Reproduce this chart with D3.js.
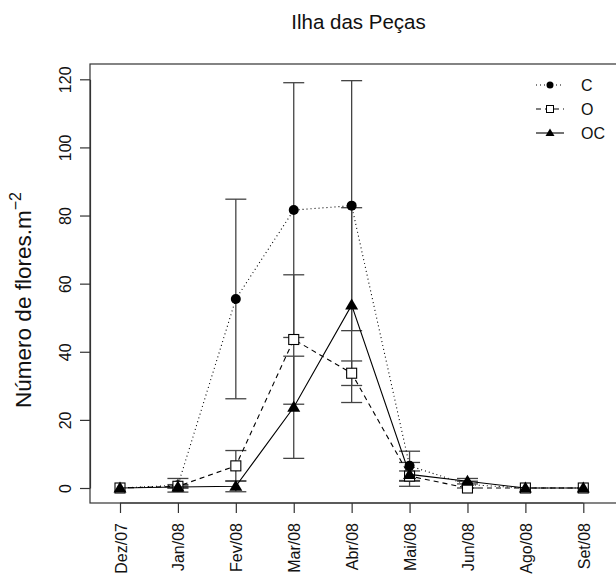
<!DOCTYPE html>
<html>
<head>
<meta charset="utf-8">
<script src="https://cdn.jsdelivr.net/npm/d3@7"></script>
<style>
  body { margin: 0; background: #fff; }
  text { font-family: "Liberation Sans", Arial, Helvetica, sans-serif; fill: #111; }
</style>
</head>
<body>
<div id="chart"></div>
<script>
var months = ['Dez/07', 'Jan/08', 'Fev/08', 'Mar/08', 'Abr/08', 'Mai/08', 'Jun/08', 'Ago/08', 'Set/08'];
var yTicks = [0, 20, 40, 60, 80, 100, 120];

// means and standard errors per treatment
var cMean  = [0, 0.8, 55.5, 81.6, 82.9, 6.5, 1.0, 0, 0];
var cErr   = [0, 2.0, 29.3, 37.4, 36.7, 4.3, 1.0, 0, 0];
var oMean  = [0, 0.5, 6.5, 43.6, 33.7, 3.5, 0, 0, 0];
var oErr   = [0, 0.5, 4.5, 19.0, 3.6, 1.5, 0, 0, 0];
var ocMean = [0, 0.3, 0.5, 23.7, 53.7, 4.0, 2.0, 0, 0];
var ocErr  = [0, 0.3, 1.6, 15.0, 28.6, 3.5, 0.8, 0, 0];

var series = [
    { name: 'C', mean: cMean, err: cErr, dash: '1,3', shape: 'circle' },
    { name: 'O', mean: oMean, err: oErr, dash: '5,4', shape: 'square' },
    { name: 'OC', mean: ocMean, err: ocErr, dash: null, shape: 'triangle' }
];

var width = 616, height = 578;
var box = { left: 90, right: 622, top: 64, bottom: 503 };

var svg = d3.select('#chart').append('svg')
    .attr('width', width)
    .attr('height', height);

var x = d3.scalePoint()
    .domain(months)
    .range([120, 583.3]);

var y = d3.scaleLinear()
    .domain([0, 120])
    .range([488, 79.3]);

// plot frame
svg.append('rect')
    .attr('x', box.left)
    .attr('y', box.top)
    .attr('width', box.right - box.left)
    .attr('height', box.bottom - box.top)
    .attr('fill', 'none')
    .attr('stroke', '#333')
    .attr('stroke-width', 1.2);

// y axis
var yAxis = svg.append('g')
    .attr('transform', 'translate(' + box.left + ',0)')
    .call(d3.axisLeft(y).tickValues(yTicks).tickSize(10).tickSizeOuter(0));
yAxis.select('.domain').attr('stroke', '#333').attr('stroke-width', 1.2);
yAxis.selectAll('.tick line').attr('stroke', '#333').attr('stroke-width', 1.2);
yAxis.selectAll('.tick text')
    .attr('font-size', 16)
    .attr('text-anchor', 'middle')
    .attr('x', 0).attr('dy', 0)
    .attr('transform', 'translate(-19,0) rotate(-90)');

// x axis
var xAxis = svg.append('g')
    .attr('transform', 'translate(0,' + box.bottom + ')')
    .call(d3.axisBottom(x).tickSize(10).tickSizeOuter(0));
xAxis.select('.domain').attr('stroke', '#333').attr('stroke-width', 1.2)
    .attr('d', 'M' + x(months[0]) + ',0H' + x(months[months.length - 1]));
xAxis.selectAll('.tick line').attr('stroke', '#333').attr('stroke-width', 1.2);
xAxis.selectAll('.tick text')
    .attr('font-size', 16)
    .attr('text-anchor', 'end')
    .attr('y', 0).attr('dy', 0)
    .attr('transform', 'translate(6,20) rotate(-90)');

// title
svg.append('text')
    .attr('x', 358.5)
    .attr('y', 29)
    .attr('text-anchor', 'middle')
    .attr('font-size', 20.5)
    .text('Ilha das Peças');

// y label
var ylab = svg.append('text')
    .attr('transform', 'translate(31,300) rotate(-90)')
    .attr('text-anchor', 'middle')
    .attr('font-size', 22.5);
ylab.append('tspan').text('Número de flores.m');
ylab.append('tspan').attr('dy', -10).attr('font-size', 16).text('\u22122');

// error bars
var capHalf = 10.5;
series.forEach(function (s) {
    var g = svg.append('g').attr('stroke', '#444').attr('stroke-width', 1.3);
    months.forEach(function (m, i) {
        if (s.err[i] <= 0) return;
        var cx = x(m);
        var y0 = y(s.mean[i] - s.err[i]);
        var y1 = y(s.mean[i] + s.err[i]);
        g.append('line').attr('x1', cx).attr('x2', cx).attr('y1', y0).attr('y2', y1);
        g.append('line').attr('x1', cx - capHalf).attr('x2', cx + capHalf).attr('y1', y0).attr('y2', y0);
        g.append('line').attr('x1', cx - capHalf).attr('x2', cx + capHalf).attr('y1', y1).attr('y2', y1);
    });
});

var line = d3.line()
    .x(function (d, i) { return x(months[i]); })
    .y(function (d) { return y(d); });

function drawMarker(g, shape, cx, cy) {
    if (shape === 'circle') {
        g.append('circle').attr('cx', cx).attr('cy', cy).attr('r', 5)
            .attr('fill', '#000');
    } else if (shape === 'square') {
        g.append('rect').attr('x', cx - 5).attr('y', cy - 5).attr('width', 10).attr('height', 10)
            .attr('fill', '#fff').attr('stroke', '#000').attr('stroke-width', 1.1);
    } else {
        g.append('path')
            .attr('d', 'M' + cx + ',' + (cy - 6.5) + 'L' + (cx + 6.5) + ',' + (cy + 4.5) + 'L' + (cx - 6.5) + ',' + (cy + 4.5) + 'Z')
            .attr('fill', '#000');
    }
}

// lines + markers
series.forEach(function (s) {
    svg.append('path')
        .datum(s.mean)
        .attr('d', line)
        .attr('fill', 'none')
        .attr('stroke', '#000')
        .attr('stroke-width', 1.1)
        .attr('stroke-dasharray', s.dash);
    var g = svg.append('g');
    s.mean.forEach(function (v, i) {
        drawMarker(g, s.shape, x(months[i]), y(v));
    });
});

// legend
var legend = svg.selectAll('.legend')
    .data(series)
    .enter()
    .append('g')
    .attr('class', 'legend')
    .attr('transform', function (d, i) {
        return 'translate(0,' + (85 + i * 24) + ')';
    });
legend.append('line')
    .attr('x1', 536).attr('x2', 564)
    .attr('y1', 0).attr('y2', 0)
    .attr('stroke', '#000')
    .attr('stroke-width', 1.1)
    .attr('stroke-dasharray', function (d) { return d.dash; });
legend.each(function (d) {
    var g = d3.select(this);
    if (d.shape === 'circle') {
        g.append('circle').attr('cx', 550).attr('cy', 0).attr('r', 3.5).attr('fill', '#000');
    } else if (d.shape === 'square') {
        g.append('rect').attr('x', 546.5).attr('y', -3.5).attr('width', 7).attr('height', 7)
            .attr('fill', '#fff').attr('stroke', '#000');
    } else {
        g.append('path').attr('d', 'M550,-4.5L554.5,3L545.5,3Z').attr('fill', '#000');
    }
});
legend.append('text')
    .attr('x', 581)
    .attr('y', 6)
    .attr('font-size', 16)
    .text(function (d) { return d.name; });
</script>
</body>
</html>
